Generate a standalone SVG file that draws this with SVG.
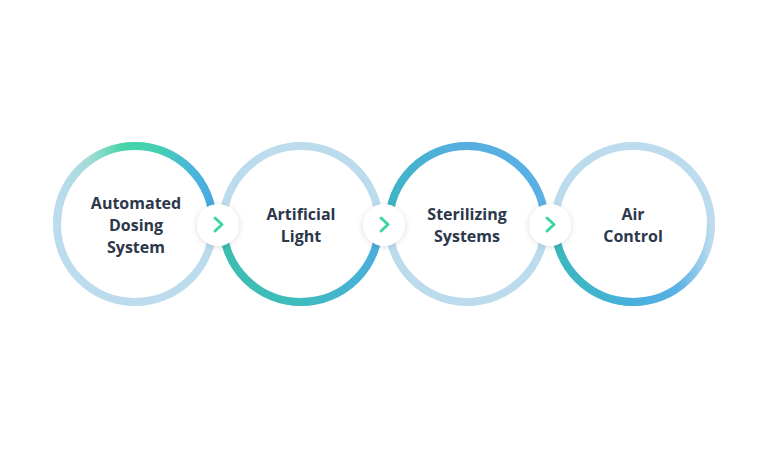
<svg xmlns="http://www.w3.org/2000/svg" width="768" height="449" viewBox="0 0 768 449">
<defs>
<style>
.ring{fill:#ffffff;stroke:#bcdcee;stroke-width:8}
.arc{fill:none;stroke-width:8}
.lbl{font-family:"Open Sans","Noto Sans",sans-serif;font-weight:700;font-size:16px;fill:#2c374a;text-anchor:middle}
.dot{fill:#ffffff;filter:url(#sh)}
.chev{fill:none;stroke:#3dd69e;stroke-width:3;stroke-linecap:round;stroke-linejoin:round}
</style>
<filter id="sh" x="-50%" y="-50%" width="200%" height="200%">
<feDropShadow dx="0" dy="1" stdDeviation="3" flood-color="#000000" flood-opacity="0.14"/>
</filter>
<linearGradient id="g1" gradientUnits="userSpaceOnUse" x1="57" y1="0" x2="213" y2="0">
<stop offset="0" stop-color="#bcdcee"/>
<stop offset="0.2" stop-color="#a4dcd6"/>
<stop offset="0.42" stop-color="#46d6a8"/>
<stop offset="0.65" stop-color="#44cfb2"/>
<stop offset="0.85" stop-color="#4ab8d8"/>
<stop offset="1" stop-color="#4aa8e2"/>
</linearGradient>
<linearGradient id="g2" gradientUnits="userSpaceOnUse" x1="223" y1="0" x2="379" y2="0">
<stop offset="0" stop-color="#3dbdb0"/>
<stop offset="0.5" stop-color="#3fbcbe"/>
<stop offset="1" stop-color="#4aaedc"/>
</linearGradient>
<linearGradient id="g3" gradientUnits="userSpaceOnUse" x1="389" y1="0" x2="545" y2="0">
<stop offset="0" stop-color="#3cb4c4"/>
<stop offset="0.4" stop-color="#55aee0"/>
<stop offset="1" stop-color="#5ab0e4"/>
</linearGradient>
<linearGradient id="g4" gradientUnits="userSpaceOnUse" x1="555" y1="0" x2="711" y2="0">
<stop offset="0" stop-color="#3ab8bc"/>
<stop offset="0.5" stop-color="#48b0dc"/>
<stop offset="0.78" stop-color="#58b0e6"/>
<stop offset="0.9" stop-color="#8cc6ea"/>
<stop offset="1" stop-color="#bcdcee"/>
</linearGradient>
</defs>
<rect width="768" height="449" fill="#ffffff"/>
<g id="node1">
<circle class="ring" cx="135" cy="224" r="78"/>
<path class="arc" stroke="url(#g1)" d="M57,224 A78,78 0 0 1 213,224"/>
<text class="lbl" x="136" y="209">Automated</text>
<text class="lbl" x="136" y="231">Dosing</text>
<text class="lbl" x="136" y="253">System</text>
</g>
<g id="node2">
<circle class="ring" cx="301" cy="224" r="78"/>
<path class="arc" stroke="url(#g2)" d="M223,224 A78,78 0 0 0 379,224"/>
<text class="lbl" x="301" y="220">Artificial</text>
<text class="lbl" x="301" y="242">Light</text>
</g>
<g id="node3">
<circle class="ring" cx="467" cy="224" r="78"/>
<path class="arc" stroke="url(#g3)" d="M389,224 A78,78 0 0 1 545,224"/>
<text class="lbl" x="467" y="220">Sterilizing</text>
<text class="lbl" x="467" y="242">Systems</text>
</g>
<g id="node4">
<circle class="ring" cx="633" cy="224" r="78"/>
<path class="arc" stroke="url(#g4)" d="M555,224 A78,78 0 0 0 711,224"/>
<text class="lbl" x="633" y="220">Air</text>
<text class="lbl" x="633" y="242">Control</text>
</g>
<g id="connectors">
<circle class="dot" cx="218" cy="225" r="21"/>
<path class="chev" d="M215,218 L222,224.5 L215,231"/>
<circle class="dot" cx="384" cy="225" r="21"/>
<path class="chev" d="M381,218 L388,224.5 L381,231"/>
<circle class="dot" cx="550" cy="225" r="21"/>
<path class="chev" d="M547,218 L554,224.5 L547,231"/>
</g>
</svg>
